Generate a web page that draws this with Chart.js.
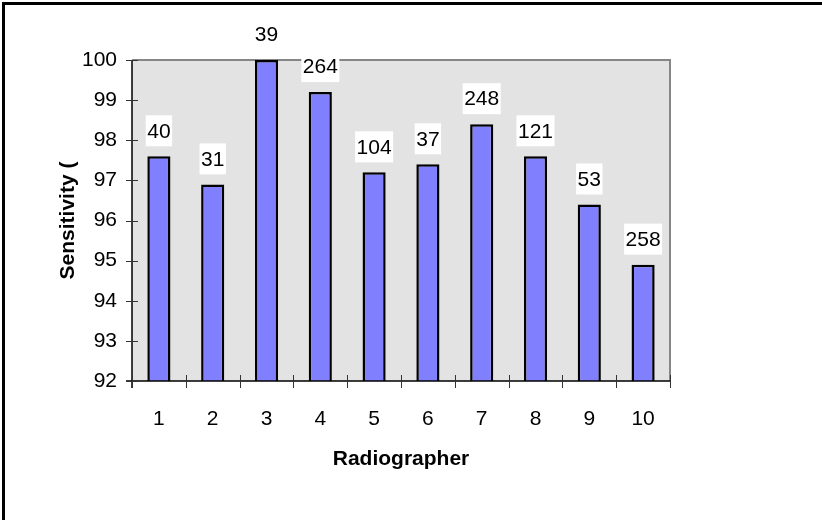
<!DOCTYPE html>
<html lang="en">
<head>
<meta charset="UTF-8">
<title>Sensitivity by Radiographer</title>
<style>
  * { margin: 0; padding: 0; }
  body { background: #fff; }
  canvas { display: block; }
</style>
<script src="https://cdn.jsdelivr.net/npm/chart.js"></script>
</head>
<body>
<canvas id="chart" width="822" height="520"></canvas>
<script>
// data
const radiographers = ['1', '2', '3', '4', '5', '6', '7', '8', '9', '10'];
const sensitivity = [97.6, 96.9, 100, 99.2, 97.2, 97.4, 98.4, 97.6, 96.4, 94.9];
const caseCounts = ['40', '31', '39', '264', '104', '37', '248', '121', '53', '258'];
const yMin = 92, yMax = 100;

const FONT = "'Liberation Sans', Arial, sans-serif";

// plot background, grey top/right border, outer frame, crossing tick marks
const frame = {
    id: 'frame',
    beforeDatasetsDraw(chart) {
        const { ctx, chartArea: a } = chart;
        ctx.save();
        ctx.fillStyle = '#e3e3e3';
        ctx.fillRect(a.left, a.top, a.right - a.left, a.bottom - a.top);

        ctx.strokeStyle = '#868686';
        ctx.lineWidth = 2;
        ctx.beginPath();
        ctx.moveTo(a.left, a.top);
        ctx.lineTo(a.right, a.top);
        ctx.lineTo(a.right, a.bottom);
        ctx.stroke();

        // outer frame (only top and left show in the picture)
        ctx.strokeStyle = '#000';
        ctx.lineWidth = 3;
        ctx.beginPath();
        ctx.moveTo(3.5, 520);
        ctx.lineTo(3.5, 3.5);
        ctx.lineTo(822, 3.5);
        ctx.stroke();
        ctx.restore();
    },
    afterDatasetsDraw(chart) {
        const { ctx, chartArea: a, scales: { x, y } } = chart;
        ctx.save();
        // axes
        ctx.strokeStyle = '#000';
        ctx.lineWidth = 1.5;
        ctx.beginPath();
        ctx.moveTo(a.left, a.top);
        ctx.lineTo(a.left, a.bottom + 7);
        ctx.moveTo(a.left - 6, a.bottom);
        ctx.lineTo(a.right, a.bottom);
        ctx.stroke();

        ctx.strokeStyle = '#333';
        ctx.lineWidth = 1;
        ctx.beginPath();
        for (let v = yMin; v <= yMax; v++) {
            const py = Math.round(y.getPixelForValue(v)) + 0.5;
            ctx.moveTo(a.left - 6, py);
            ctx.lineTo(a.left + 6, py);
        }
        const n = radiographers.length;
        for (let i = 0; i <= n; i++) {
            const px = Math.round(x.getPixelForValue(i - 0.5)) + 0.5;
            ctx.moveTo(px, a.bottom - 6);
            ctx.lineTo(px, a.bottom + 7);
        }
        ctx.stroke();

        // count labels in white boxes above the bars
        ctx.font = '21px ' + FONT;
        ctx.textAlign = 'center';
        ctx.textBaseline = 'middle';
        chart.getDatasetMeta(0).data.forEach((bar, i) => {
            const txt = caseCounts[i];
            const w = ctx.measureText(txt).width + 3;
            ctx.fillStyle = '#fff';
            ctx.fillRect(bar.x - w / 2, bar.y - 41, w, 31);
            ctx.fillStyle = '#000';
            ctx.fillText(txt, bar.x, bar.y - 24.5);
        });
        ctx.restore();
    }
};

new Chart(document.getElementById('chart'), {
    type: 'bar',
    data: {
        labels: radiographers,
        datasets: [{
            data: sensitivity,
            backgroundColor: '#8080ff',
            borderColor: '#000',
            borderWidth: 2.5,
            borderSkipped: false,
            barPercentage: 0.43,
            categoryPercentage: 1
        }]
    },
    options: {
        responsive: false,
        animation: false,
        layout: { padding: { left: 0, top: 60, right: 152, bottom: 0 } },
        plugins: { legend: { display: false }, tooltip: { enabled: false } },
        scales: {
            x: {
                grid: { display: false, drawTicks: false },
                border: { display: false },
                ticks: { color: '#000', font: { family: FONT, size: 21 }, padding: 26 },
                title: {
                    display: true, text: 'Radiographer', color: '#000',
                    font: { family: FONT, size: 21, weight: 'bold' },
                    padding: { top: 0, bottom: 48 }
                },
                afterFit(s) { s.height = 139; }
            },
            y: {
                min: yMin, max: yMax,
                grid: { display: false, drawTicks: false },
                border: { display: false },
                ticks: { stepSize: 1, color: '#000', font: { family: FONT, size: 21 }, padding: 15 },
                title: {
                    display: true, text: 'Sensitivity (', color: '#000',
                    font: { family: FONT, size: 21, weight: 'bold' },
                    padding: { top: 56, bottom: 0 }
                },
                afterFit(s) { s.width = 132; }
            }
        }
    },
    plugins: [frame]
});
</script>
</body>
</html>
